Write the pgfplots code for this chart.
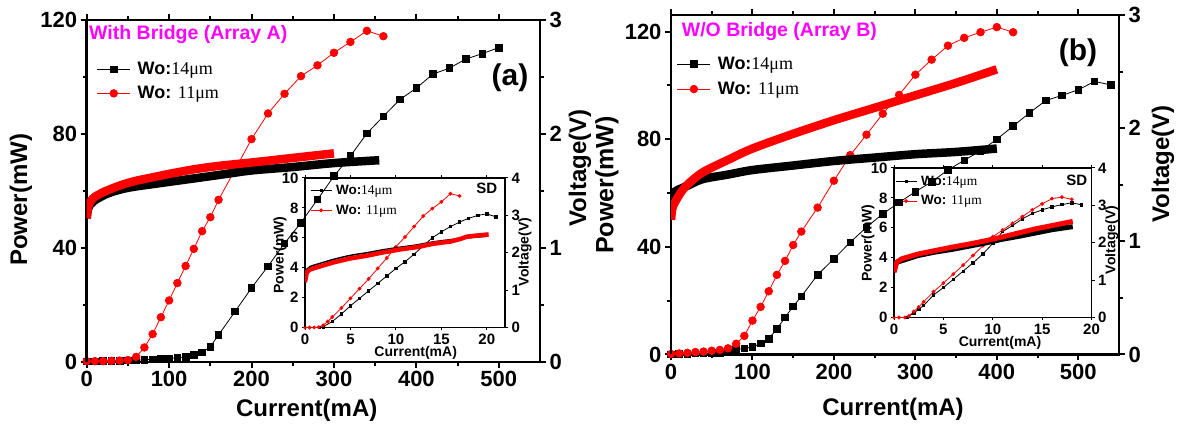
\documentclass[border=0pt]{standalone}
\usepackage{pgfplots}
\pgfplotsset{compat=1.18}
\usepackage{fontspec}
\setmainfont{Liberation Sans}
\newfontfamily\tnr{Liberation Serif}
\definecolor{mag}{RGB}{255,0,255}
\definecolor{rd}{RGB}{255,0,0}
\newcommand{\fs}[1]{\fontsize{#1}{#1}\selectfont}

\pgfplotsset{
 mainax/.style={scale only axis, xmin=0, xmax=550, ymin=0,
   tick align=outside,
   axis line style={line width=2.6pt},
   major tick style={line width=2pt, black},
   minor tick style={line width=2pt, black},
   major tick length=6pt, minor tick length=4pt,
   tick label style={font=\fs{22}\bfseries},
   /pgf/number format/assume math mode=true},
 insax/.style={scale only axis, ymin=0, tick align=outside,
   axis line style={line width=1.3pt},
   major tick style={line width=1pt, black},
   major tick length=3pt,
   tick label style={font=\fs{15}\bfseries},
   /pgf/number format/assume math mode=true},
 legimg/.style={legend image code/.code={\draw[mark repeat=2,mark phase=2,##1] plot coordinates {(0pt,0pt) (#1/2,0pt) (#1,0pt)};}},
 pblk/.style={black, line width=0.8pt, mark=square*, mark size=3.3pt, mark options={solid}},
 pred/.style={rd, line width=0.8pt, mark=*, mark size=3.8pt, mark options={solid, fill=rd, draw=rd}},
 iblk/.style={black, line width=0.8pt, mark=square*, mark size=1.2pt, mark options={solid}},
 ired/.style={rd, line width=0.8pt, mark=*, mark size=1.5pt, mark options={solid, fill=rd, draw=rd}},
}

\begin{document}
\begin{tikzpicture}
\path[use as bounding box] (0,0) rectangle (1177pt,427pt);

%================ INSET A =================
\begin{axis}[insax, at={(305pt,99.5pt)}, anchor=south west, width=200pt, height=149.5pt,
  xmin=0, xmax=22, ymax=10, xtick={0,5,10,15,20}, ytick={0,2,4,6,8,10}, ytick pos=left,
  legend style={draw=none, fill=none, at={(axis description cs:0.025,0.967)}, anchor=north west,
    font=\fs{13.5}\bfseries, inner sep=0pt, row sep=5pt, cells={anchor=west},
    /tikz/every odd column/.append style={column sep=2pt}}, legimg=21pt]
\addplot[iblk] coordinates {(1.6,0) (2,0.05) (3,0.4) (4,0.9) (5,1.45) (6,1.95) (7,2.45) (8,2.95) (9,3.45) (10,3.95) (11,4.4) (12,4.9) (13,5.45) (14,6.0) (15,6.4) (16,6.75) (17,7.05) (18,7.3) (19,7.5) (20,7.6) (21,7.4)};
\addlegendentry{Wo:{\tnr\mdseries 14μm}}
\addplot[ired] coordinates {(0,0) (0.5,0) (1,0) (1.5,0.02) (2,0.15) (2.5,0.4) (3,0.7) (4,1.3) (5,1.95) (6,2.6) (7,3.25) (8,3.95) (9,4.65) (10,5.4) (11,6.05) (12,6.75) (13,7.45) (14,7.95) (15,8.4) (16,8.95) (17,8.8)};
\addlegendentry{Wo: {\tnr\mdseries 11μm}}
\end{axis}
\begin{axis}[insax, at={(305pt,99.5pt)}, anchor=south west, width=200pt, height=149.5pt,
  xmin=0, xmax=22, ymax=4, ytick={0,1,2,3,4}, ytick pos=right, hide x axis]
\addplot[black, line width=1.5pt, smooth] coordinates {(0,1.30) (0.2,1.56) (0.55,1.63) (1.3,1.69) (3.1,1.82) (5,1.93) (6.8,2.00) (8.6,2.08) (10.5,2.15) (12.3,2.21) (14.1,2.29) (16.0,2.35) (18,2.40) (20,2.44)};
\addplot[rd, line width=4.5pt, line join=round] coordinates {(0,1.21) (0.1,1.35) (0.2,1.48) (0.55,1.55) (1.3,1.61) (3.1,1.74) (5,1.85) (6.8,1.92) (8.6,2.01) (10.5,2.09) (12.3,2.15) (14.1,2.24) (16.0,2.30) (17.1,2.37) (17.8,2.43) (18.9,2.46) (20.2,2.49)};
\end{axis}

%================ INSET B =================
\begin{axis}[insax, at={(894pt,109.5pt)}, anchor=south west, width=197.5pt, height=149.5pt,
  xmin=0, xmax=20, ymax=10, xtick={0,5,10,15,20}, ytick={0,2,4,6,8,10}, ytick pos=left,
  legend style={draw=none, fill=none, at={(axis description cs:0.005,0.962)}, anchor=north west,
    font=\fs{13.5}\bfseries, inner sep=0pt, row sep=5pt, cells={anchor=west},
    /tikz/every odd column/.append style={column sep=2pt}}, legimg=21pt]
\addplot[iblk] coordinates {(1.3,0) (2,0.3) (2.5,0.55) (3,0.8) (4,1.5) (5,2.0) (6,2.55) (7,3.1) (8,3.65) (9,4.25) (10,4.95) (11,5.75) (12,6.15) (13,6.6) (14,6.95) (15,7.2) (16,7.4) (17,7.55) (18,7.67) (19,7.54)};
\addlegendentry{Wo:{\tnr\mdseries 14μm}}
\addplot[ired] coordinates {(0,0) (0.5,0) (1.1,0) (1.5,0.1) (2,0.4) (2.5,0.7) (3,1.05) (4,1.72) (5,2.3) (6,2.9) (7,3.5) (8,4.15) (9,4.8) (10,5.4) (11,5.85) (12,6.3) (13,6.75) (14,7.2) (15,7.6) (16,7.95) (17,8.05) (18,7.9)};
\addlegendentry{Wo: {\tnr\mdseries 11μm}}
\end{axis}
\begin{axis}[insax, at={(894pt,109.5pt)}, anchor=south west, width=197.5pt, height=149.5pt,
  xmin=0, xmax=20, ymax=4, ytick={0,1,2,3,4}, ytick pos=right, hide x axis]
\addplot[black, line width=5pt, line join=round] coordinates {(0,1.30) (0.1,1.40) (0.3,1.48) (0.78,1.52) (2.46,1.66) (4.15,1.75) (5.83,1.82) (9.2,1.99) (10.9,2.09) (12.6,2.17) (14.3,2.26) (16,2.35) (18.1,2.43)};
\addplot[rd, line width=5pt, line join=round] coordinates {(0,1.21) (0.1,1.30) (0.27,1.48) (0.78,1.57) (2.46,1.70) (4.15,1.79) (5.83,1.88) (7.5,1.96) (9.2,2.05) (10.9,2.15) (12.6,2.26) (14.3,2.37) (16.0,2.46) (18.1,2.57)};
\end{axis}

%================ MAIN A =================
\begin{axis}[mainax, at={(86.7pt,65pt)}, anchor=south west, width=453.3pt, height=342pt,
  ymax=120, xtick={0,100,...,500}, minor x tick num=1, ytick={0,40,80,120}, minor y tick num=1,
  ytick pos=left,
  legend style={draw=none, fill=none, at={(axis description cs:0.022,0.882)}, anchor=north west,
    font=\fs{18}\bfseries, inner sep=0pt, row sep=6pt, cells={anchor=west},
    /tikz/every odd column/.append style={column sep=5pt}}, legimg=33pt]
\addplot[pblk] coordinates {(0,0.2) (10,0.2) (20,0.3) (30,0.3) (40,0.4) (50,0.5) (60,0.6) (70,0.8) (80,0.9) (90,1.1) (100,1.3) (110,1.5) (120,1.8) (130,2.4) (140,3.3) (150,5.4) (160,9.5) (180,17.7) (200,26.0) (220,33.6) (240,41.6) (260,48.9) (280,57.0) (300,65.2) (320,72.3) (340,80.2) (360,86.2) (380,92.1) (400,96.1) (420,101.0) (440,103.1) (460,106.3) (480,108.2) (500,110.3)};
\addlegendentry{Wo:{\tnr\mdseries 14μm}}
\addplot[pred] coordinates {(0,0.3) (10,0.3) (20,0.3) (30,0.4) (40,0.5) (50,0.7) (60,1.8) (70,5.1) (80,9.8) (90,15.7) (100,21.6) (110,27.7) (120,33.7) (130,39.7) (140,45.9) (150,50.8) (160,56.9) (180,67.5) (200,78.2) (220,87.2) (240,94.1) (260,100.3) (280,104.1) (300,108.5) (320,112.3) (340,116.2) (360,114.3)};
\addlegendentry{Wo: {\tnr\mdseries 11μm}}
\end{axis}
\begin{axis}[mainax, at={(86.7pt,65pt)}, anchor=south west, width=453.3pt, height=342pt,
  ymax=3, ytick={0,1,2,3}, minor y tick num=1, ytick pos=right, hide x axis]
\addplot[black, line width=8.5pt, smooth] coordinates {(0,1.26) (1,1.32) (2,1.35) (4,1.38) (7,1.40) (10,1.42) (15,1.44) (20,1.46) (30,1.49) (45,1.52) (60,1.54) (80,1.56) (100,1.58) (130,1.61) (160,1.64) (200,1.68) (250,1.71) (300,1.745) (355,1.77)};
\addplot[rd, line width=8.5pt, smooth] coordinates {(0,1.26) (1,1.33) (2,1.37) (4,1.40) (7,1.43) (10,1.45) (15,1.47) (20,1.49) (30,1.52) (45,1.56) (60,1.59) (80,1.62) (100,1.65) (130,1.69) (160,1.72) (200,1.75) (250,1.79) (300,1.83)};
\end{axis}

%================ MAIN B =================
\begin{axis}[mainax, at={(671pt,72.5pt)}, anchor=south west, width=448pt, height=339.5pt,
  ymax=126.2, xtick={0,100,...,500}, minor x tick num=1, ytick={0,40,80,120}, minor y tick num=1,
  ytick pos=left,
  legend style={draw=none, fill=none, at={(axis description cs:0.013,0.882)}, anchor=north west,
    font=\fs{18}\bfseries, inner sep=0pt, row sep=7pt, cells={anchor=west},
    /tikz/every odd column/.append style={column sep=5pt}}, legimg=33pt]
\addplot[pblk] coordinates {(0,0.1) (10,0.2) (20,0.3) (30,0.4) (40,0.5) (50,0.6) (60,0.7) (70,1.0) (80,1.9) (90,2.2) (100,2.8) (110,4.1) (120,5.9) (130,9.5) (140,13.8) (150,17.9) (160,21.6) (180,29.6) (200,35.6) (220,41.7) (240,47.3) (260,52.3) (280,56.5) (300,60.5) (320,64.2) (340,68.6) (360,72.2) (380,75.7) (400,80.0) (420,84.9) (440,89.8) (460,94.4) (480,96.3) (500,98.4) (520,101.5) (540,100.2)};
\addlegendentry{Wo:{\tnr\mdseries 14μm}}
\addplot[pred] coordinates {(0,0.2) (10,0.4) (20,0.6) (30,0.9) (40,1.1) (50,1.4) (60,1.7) (70,2.3) (80,4.0) (90,6.9) (100,12.6) (110,17.7) (120,23.5) (130,29.6) (140,34.8) (150,40.7) (160,45.7) (180,54.6) (200,64.6) (220,74.1) (240,81.7) (260,89.5) (280,96.5) (300,104.0) (320,109.6) (340,114.8) (360,117.7) (380,119.8) (400,121.7) (420,119.8)};
\addlegendentry{Wo: {\tnr\mdseries 11μm}}
\end{axis}
\begin{axis}[mainax, at={(671pt,72.5pt)}, anchor=south west, width=448pt, height=339.5pt,
  ymax=3, ytick={0,1,2,3}, minor y tick num=1, ytick pos=right, hide x axis]
\addplot[black, line width=8.5pt, smooth] coordinates {(0,1.38) (2,1.42) (5,1.44) (10,1.46) (20,1.49) (39,1.55) (70,1.59) (100,1.63) (150,1.67) (200,1.71) (250,1.74) (300,1.77) (350,1.79) (400,1.82)};
\addplot[rd, line width=8.5pt, smooth] coordinates {(0,1.19) (1,1.26) (2,1.30) (4.5,1.34) (11,1.42) (20,1.50) (39,1.61) (70,1.72) (100,1.82) (150,1.95) (200,2.07) (250,2.18) (300,2.29) (350,2.40) (400,2.52)};
\end{axis}

%================ TEXT =================
\node[font=\fs{24}\bfseries, rotate=90] at (21pt,227pt) {Power(mW)};
\node[font=\fs{24}\bfseries, rotate=90] at (580pt,259pt) {Voltage(V)};
\node[font=\fs{24}\bfseries] at (306.7pt,17pt) {Current(mA)};
\node[font=\fs{19.5}\bfseries, text=mag, anchor=west, inner sep=0pt] at (89pt,392pt) {With Bridge (Array A)};
\node[font=\fs{30}\bfseries] at (510pt,349pt) {(a)};
\node[font=\fs{14}\bfseries] at (415.7pt,73.7pt) {Current(mA)};
\node[font=\fs{14}\bfseries, rotate=90] at (280pt,172pt) {Power(mW)};
\node[font=\fs{14}\bfseries, rotate=90] at (525pt,175pt) {Voltage(V)};
\node[font=\fs{15}\bfseries] at (486.7pt,238.3pt) {SD};

\node[font=\fs{25}\bfseries, rotate=90] at (607pt,242pt) {Power(mW)};
\node[font=\fs{24}\bfseries, rotate=90] at (1163pt,263pt) {Voltage(V)};
\node[font=\fs{24}\bfseries] at (893pt,18pt) {Current(mA)};
\node[font=\fs{19.5}\bfseries, text=mag, anchor=west, inner sep=0pt] at (681.7pt,395.3pt) {W/O Bridge (Array B)};
\node[font=\fs{30}\bfseries] at (1078pt,374pt) {(b)};
\node[font=\fs{14}\bfseries] at (1000pt,84pt) {Current(mA)};
\node[font=\fs{14}\bfseries, rotate=90] at (868pt,184pt) {Power(mW)};
\node[font=\fs{14}\bfseries, rotate=90] at (1111.7pt,187pt) {Voltage(V)};
\node[font=\fs{15}\bfseries] at (1076.7pt,247pt) {SD};
\end{tikzpicture}
\end{document}
